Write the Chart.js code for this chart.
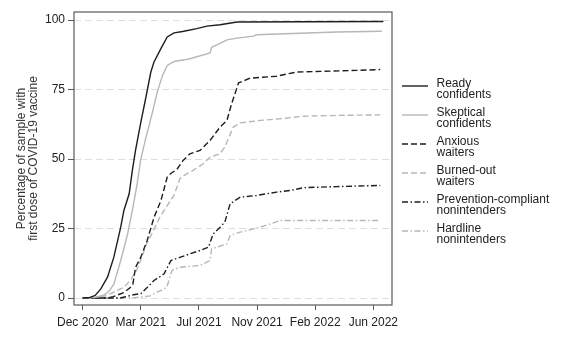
<!DOCTYPE html>
<html>
<head>
<meta charset="utf-8">
<script src="https://cdn.jsdelivr.net/npm/chart.js@4.4.1/dist/chart.umd.min.js"></script>
<style>
html,body{margin:0;padding:0;background:#fff;}
#wrap{width:573px;height:344px;position:relative;}
</style>
</head>
<body>
<div id="wrap"><canvas id="c" width="573" height="344"></canvas></div>
<script>
// ---- axis ticks ----
const xTickValues = [0, 110, 220, 330, 440, 550];
const xTickLabels = ['Dec 2020', 'Mar 2021', 'Jul 2021', 'Nov 2021', 'Feb 2022', 'Jun 2022'];
const yTickValues = [0, 25, 50, 75, 100];
const yTitle = ['Percentage of sample with', 'first dose of COVID-19 vaccine'];

// ---- series labels ----
const seriesLabels = [
  ['Ready', 'confidents'],
  ['Skeptical', 'confidents'],
  ['Anxious', 'waiters'],
  ['Burned-out', 'waiters'],
  ['Prevention-compliant', 'nonintenders'],
  ['Hardline', 'nonintenders']
];

// ---- series values (x: days since start, y: percent) ----
const readyDays = [0,14,24,34,47,59,72,78,88,94,100,110,119,129,135,148,160,173,189,216,235,260,292,569];
const readyPct  = [0,0.2,1,3.2,7.5,14.7,25.5,31.5,37.5,45.9,53.1,63.2,71.6,81.3,84.9,89.7,93.9,95.4,95.9,96.9,97.8,98.3,99.3,99.5];

const skepticalDays = [0,25,40,50,59,72,85,94,103,110,119,132,141,151,160,173,192,203,241,244,260,273,292,323,329,481,566];
const skepticalPct  = [0,0.3,1,2.5,5,13.5,23,31.5,41,50,57.2,66.8,74,80,83.7,85.1,85.7,86.1,88.2,90.2,91.6,92.9,93.5,94.2,94.7,95.7,96];

const anxiousDays = [0,45,58,78,90,95,100,110,122,135,148,160,168,178,190,203,222,241,260,273,282,295,317,367,386,405,519,563];
const anxiousPct  = [0,0,0.5,2,3.8,5,11,14.7,20.7,29,35,43.5,45,46.2,49.5,51.9,53.1,56.7,61.5,63.9,70,77.4,79.1,79.8,80.6,81.3,81.9,82.2];

const burnedDays = [0,39,58,77,90,102,112,121,134,146,159,173,184,195,209,228,241,260,269,285,298,336,374,418,481,563];
const burnedPct  = [0,0.5,2,3.8,6.3,9.9,14.7,19.5,24.3,29.1,33,37,42.9,44.5,45.9,48.3,50.7,51.9,54.3,61.5,63,63.9,64.5,65.4,65.7,65.9];

const preventionDays = [0,71,77,96,110,122,135,154,167,185,203,222,238,247,260,269,279,298,329,367,393,418,481,563];
const preventionPct  = [0,0,0.3,1.2,1.6,3.8,6.3,8.7,13.5,14.7,15.9,17.1,18.3,23.1,25.5,27.3,33.9,36.3,36.9,38.1,38.7,39.7,40.1,40.5];

const hardlineDays = [0,71,102,128,140,159,169,184,222,241,244,273,279,298,336,374,563];
const hardlinePct  = [0,0,0.2,0.8,2,3.8,9.9,11.1,11.7,13.5,17.7,19.5,22.5,23.7,25.5,27.9,27.9];

// ---- styles ----
const BLACK = '#1e1e1e';
const GRAY = '#b7b7b7';
const DASH = [6, 3];
const DASHDOT = [6, 2.5, 1.5, 2.5];
const FONT = "'Liberation Sans', Arial, sans-serif";

function pts(xs, ys) { return xs.map((x, i) => ({x: x, y: ys[i]})); }

const seriesData = [
  pts(readyDays, readyPct),
  pts(skepticalDays, skepticalPct),
  pts(anxiousDays, anxiousPct),
  pts(burnedDays, burnedPct),
  pts(preventionDays, preventionPct),
  pts(hardlineDays, hardlinePct)
];
const seriesStyle = [
  {c: BLACK, d: []}, {c: GRAY, d: []},
  {c: BLACK, d: DASH}, {c: GRAY, d: DASH},
  {c: BLACK, d: DASHDOT}, {c: GRAY, d: DASHDOT}
];

const datasets = seriesData.map((d, i) => ({
  label: seriesLabels[i].join(' '),
  data: d,
  borderColor: seriesStyle[i].c,
  borderDash: seriesStyle[i].d,
  borderWidth: 1.4,
  pointRadius: 0,
  tension: 0,
  fill: false
}));

const framePlugin = {
  id: 'frame',
  afterDraw(chart) {
    const {ctx, chartArea: a} = chart;
    ctx.save();
    ctx.strokeStyle = '#5a5a5a';
    ctx.lineWidth = 1.2;
    ctx.strokeRect(a.left, a.top, a.right - a.left, a.bottom - a.top);
    ctx.restore();
  }
};

const legendPlugin = {
  id: 'sideLegend',
  afterDraw(chart) {
    const ctx = chart.ctx;
    ctx.save();
    chart.data.datasets.forEach((ds, i) => {
      const y = 86 + i * 29;
      ctx.beginPath();
      ctx.strokeStyle = ds.borderColor;
      ctx.lineWidth = ds.borderWidth;
      ctx.setLineDash(ds.borderDash || []);
      ctx.moveTo(402, y);
      ctx.lineTo(428, y);
      ctx.stroke();
      ctx.setLineDash([]);
      ctx.fillStyle = '#222';
      ctx.font = '12px ' + FONT;
      ctx.textBaseline = 'alphabetic';
      ctx.textAlign = 'left';
      seriesLabels[i].forEach((t, k) => {
        ctx.fillText(t, 436.5, y + 0.7 + k * 10.9);
      });
    });
    ctx.restore();
  }
};

new Chart(document.getElementById('c'), {
  type: 'line',
  data: {datasets: datasets},
  options: {
    responsive: false,
    animation: false,
    devicePixelRatio: 1,
    layout: {padding: {left: 0, right: 181, top: 12, bottom: 0}},
    plugins: {legend: {display: false}, tooltip: {enabled: false}},
    scales: {
      x: {
        type: 'linear',
        min: -16.4,
        max: 585.3,
        afterBuildTicks: s => { s.ticks = xTickValues.map(v => ({value: v})); },
        afterFit: s => { s.height = 39; },
        ticks: {
          autoSkip: false,
          maxRotation: 0,
          padding: 5,
          color: '#222',
          font: {family: FONT, size: 12},
          callback: v => xTickLabels[xTickValues.indexOf(v)]
        },
        grid: {drawOnChartArea: false, tickLength: 5, tickColor: '#5a5a5a', tickWidth: 1},
        border: {display: false}
      },
      y: {
        type: 'linear',
        min: -2.5,
        max: 102.9,
        afterBuildTicks: s => { s.ticks = yTickValues.map(v => ({value: v})); },
        afterFit: s => { s.width = 74; },
        ticks: {
          padding: 3,
          color: '#222',
          font: {family: FONT, size: 12}
        },
        grid: {color: '#dedede', lineWidth: 1, tickLength: 6, tickColor: '#5a5a5a', tickWidth: 1, tickBorderDash: []},
        border: {display: false, dash: [7, 4]},
        title: {
          display: true,
          text: yTitle,
          color: '#333',
          font: {family: FONT, size: 12, lineHeight: '11.8px'},
          padding: {top: 16, bottom: 0}
        }
      }
    }
  },
  plugins: [framePlugin, legendPlugin]
});
</script>
</body>
</html>
